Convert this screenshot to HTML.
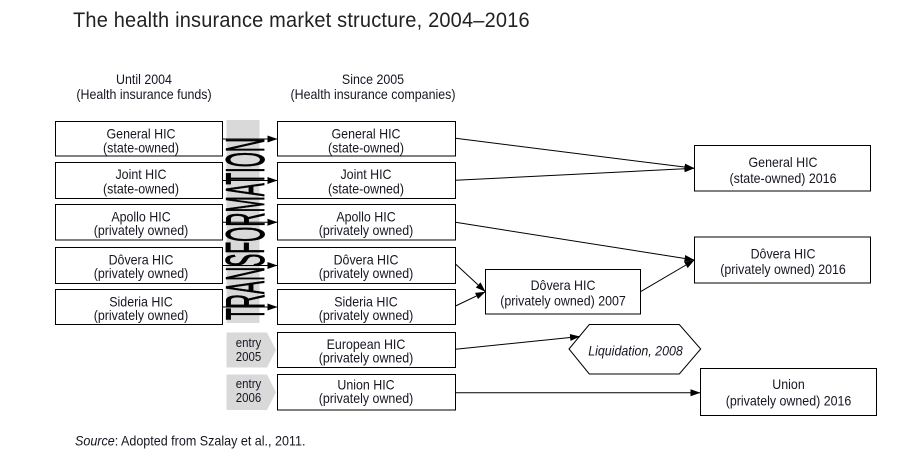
<!DOCTYPE html>
<html>
<head>
<meta charset="utf-8">
<style>
  html,body{margin:0;padding:0;background:#fff;}
  svg{display:block;}
  text{font-family:"Liberation Sans",sans-serif;fill:#161622;}
</style>
</head>
<body>
<svg width="912" height="462" viewBox="0 0 912 462" xmlns="http://www.w3.org/2000/svg">
  <defs>
    <marker id="ah" markerUnits="userSpaceOnUse" markerWidth="10" markerHeight="8" refX="10" refY="4" orient="auto">
      <path d="M0,0.5 L10,4 L0,7.5 z" fill="#000"/>
    </marker>
  </defs>
  <rect width="912" height="462" fill="#fff"/>

  <!-- Title -->
  <g transform="translate(73 0) scale(0.93 1)">
    <text x="0" y="27" font-size="21.5" textLength="491" style="fill:#222">The health insurance market structure, 2004–2016</text>
  </g>

  <!-- Headers -->
  <g font-size="13.5" text-anchor="middle">
    <g transform="translate(144 0) scale(0.92 1)">
      <text x="0" y="84">Until 2004</text>
      <text x="0" y="99">(Health insurance funds)</text>
    </g>
    <g transform="translate(373 0) scale(0.92 1)">
      <text x="0" y="84">Since 2005</text>
      <text x="0" y="99">(Health insurance companies)</text>
    </g>
  </g>

  <!-- Transformation band -->
  <rect x="226.5" y="120" width="33" height="203" fill="#d9d9d9"/>
  <text transform="translate(264,320) rotate(-90)" x="0" y="0" font-size="55" textLength="182" lengthAdjust="spacingAndGlyphs" stroke="#000" stroke-width="0.9" style="fill:#000">TRANSFORMATION</text>

  <!-- Entry tags -->
  <path d="M226.5,332.5 L267,332.5 L276,350 L267,367.5 L226.5,367.5 Z" fill="#d9d9d9"/>
  <path d="M226.5,374.5 L267,374.5 L276,392.3 L267,410 L226.5,410 Z" fill="#d9d9d9"/>
  <g font-size="13" text-anchor="middle" transform="translate(248.5 0) scale(0.88 1)">
    <text x="0" y="347">entry</text>
    <text x="0" y="361">2005</text>
    <text x="0" y="388">entry</text>
    <text x="0" y="402">2006</text>
  </g>

  <!-- Boxes -->
  <g fill="#fff" stroke="#000" stroke-width="1">
    <rect x="55.5" y="121.5" width="167" height="34.5"/>
    <rect x="55.5" y="162.5" width="167" height="36"/>
    <rect x="55.5" y="204.5" width="167" height="35.5"/>
    <rect x="55.5" y="247.5" width="167" height="36"/>
    <rect x="55.5" y="289.5" width="167" height="35"/>

    <rect x="277.5" y="121.5" width="178" height="34.5"/>
    <rect x="277.5" y="162.5" width="178" height="36"/>
    <rect x="277.5" y="204.5" width="178" height="35.5"/>
    <rect x="277.5" y="247.5" width="178" height="36"/>
    <rect x="277.5" y="289.5" width="178" height="35"/>
    <rect x="277.5" y="332.5" width="178" height="35"/>
    <rect x="277.5" y="374.5" width="178" height="35.5"/>

    <rect x="694.5" y="145.5" width="176" height="45.5"/>
    <rect x="694.5" y="237" width="176" height="46"/>
    <rect x="485.5" y="269.5" width="155" height="44.5"/>
    <rect x="700.5" y="368.5" width="176" height="47"/>
    <path d="M569,349 L589.3,324.5 L679.3,324.5 L700.7,349 L679.3,374 L589.3,374 Z"/>
  </g>

  <!-- Box texts -->
  <g font-size="13.5" text-anchor="middle">
    <g transform="translate(141 0) scale(0.92 1)">
      <text x="0" y="138.5">General HIC</text>
      <text x="0" y="152.5">(state-owned)</text>
      <text x="0" y="179">Joint HIC</text>
      <text x="0" y="193.5">(state-owned)</text>
      <text x="0" y="221.5">Apollo HIC</text>
      <text x="0" y="235">(privately owned)</text>
      <text x="0" y="264.5">Dôvera HIC</text>
      <text x="0" y="278">(privately owned)</text>
      <text x="0" y="306.5">Sideria HIC</text>
      <text x="0" y="320">(privately owned)</text>
    </g>
    <g transform="translate(366 0) scale(0.92 1)">
      <text x="0" y="138.5">General HIC</text>
      <text x="0" y="152.5">(state-owned)</text>
      <text x="0" y="179">Joint HIC</text>
      <text x="0" y="193.5">(state-owned)</text>
      <text x="0" y="221.5">Apollo HIC</text>
      <text x="0" y="235">(privately owned)</text>
      <text x="0" y="264.5">Dôvera HIC</text>
      <text x="0" y="278">(privately owned)</text>
      <text x="0" y="306.5">Sideria HIC</text>
      <text x="0" y="320">(privately owned)</text>
      <text x="0" y="349">European HIC</text>
      <text x="0" y="362.5">(privately owned)</text>
      <text x="0" y="389.5">Union HIC</text>
      <text x="0" y="403">(privately owned)</text>
    </g>
    <g transform="translate(783 0) scale(0.92 1)">
      <text x="0" y="167">General HIC</text>
      <text x="0" y="183">(state-owned) 2016</text>
      <text x="0" y="258.5">Dôvera HIC</text>
      <text x="0" y="274">(privately owned) 2016</text>
    </g>
    <g transform="translate(563 0) scale(0.92 1)">
      <text x="0" y="290">Dôvera HIC</text>
      <text x="0" y="305.5">(privately owned) 2007</text>
    </g>
    <g transform="translate(788.5 0) scale(0.92 1)">
      <text x="0" y="389">Union</text>
      <text x="0" y="405.5">(privately owned) 2016</text>
    </g>
    <g transform="translate(635.5 0) scale(0.92 1)">
      <text x="0" y="355.5" font-style="italic">Liquidation, 2008</text>
    </g>
  </g>

  <!-- Arrows -->
  <g stroke="#000" stroke-width="1" fill="none" marker-end="url(#ah)">
    <line x1="222.5" y1="139" x2="277.5" y2="139"/>
    <line x1="222.5" y1="180.5" x2="277.5" y2="180.5"/>
    <line x1="222.5" y1="222.3" x2="277.5" y2="222.3"/>
    <line x1="222.5" y1="265.5" x2="277.5" y2="265.5"/>
    <line x1="222.5" y1="307" x2="277.5" y2="307"/>

    <line x1="455.5" y1="138.3" x2="694.5" y2="168.3"/>
    <line x1="455.5" y1="180.3" x2="694.5" y2="168.3"/>
    <line x1="455.5" y1="222.3" x2="694.5" y2="260"/>
    <line x1="455.5" y1="264" x2="485.5" y2="291.7"/>
    <line x1="455.5" y1="306" x2="485.5" y2="291.7"/>
    <line x1="640.5" y1="291.7" x2="694.5" y2="260"/>
    <line x1="455.5" y1="349.3" x2="580" y2="336.5"/>
    <line x1="455.5" y1="392.7" x2="700.5" y2="392.7"/>
  </g>

  <!-- Source -->
  <g transform="translate(75 0) scale(0.93 1)">
    <text x="0" y="445.5" font-size="13.5"><tspan font-style="italic">Source</tspan>: Adopted from Szalay et al., 2011.</text>
  </g>
</svg>
</body>
</html>
